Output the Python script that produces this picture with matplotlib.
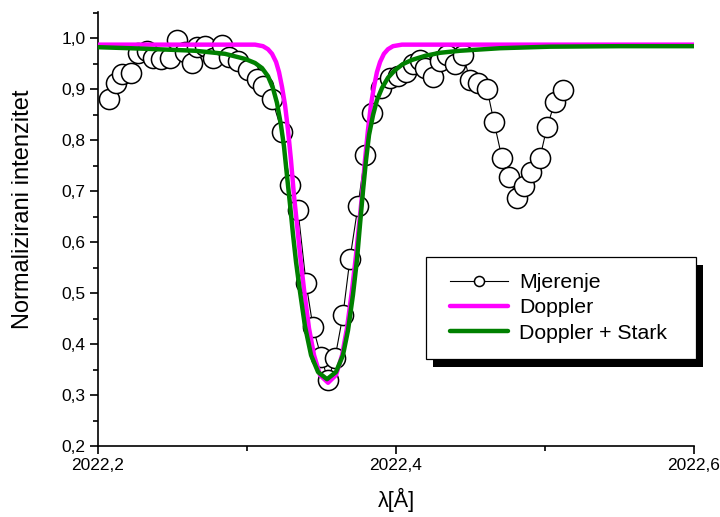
import matplotlib
matplotlib.use("Agg")
import matplotlib.pyplot as plt
from matplotlib.patches import Rectangle
from matplotlib.ticker import MultipleLocator

plt.rcParams['font.family'] = ['Liberation Sans', 'DejaVu Sans']

# measured spectrum (Mjerenje)
meas_x = [2022.2074, 2022.2121, 2022.2161, 2022.2221, 2022.2268, 2022.2329, 2022.2369,
          2022.2423, 2022.2483, 2022.2530, 2022.2584, 2022.2631, 2022.2664, 2022.2718,
          2022.2772, 2022.2832, 2022.2879, 2022.2940, 2022.3007, 2022.3067, 2022.3107,
          2022.3168, 2022.3235, 2022.3289, 2022.3342, 2022.3396, 2022.3443, 2022.3497,
          2022.3544, 2022.3591, 2022.3644, 2022.3691, 2022.3745, 2022.3792, 2022.3839,
          2022.3899, 2022.3960, 2022.4013, 2022.4067, 2022.4114, 2022.4161, 2022.4195,
          2022.4248, 2022.4295, 2022.4342, 2022.4396, 2022.4450, 2022.4497, 2022.4550,
          2022.4611, 2022.4658, 2022.4711, 2022.4758, 2022.4812, 2022.4859, 2022.4906,
          2022.4966, 2022.5013, 2022.5067, 2022.5121]
meas_y = [0.880, 0.912, 0.929, 0.931, 0.971, 0.975, 0.961, 0.959, 0.961, 0.996,
          0.973, 0.951, 0.982, 0.984, 0.961, 0.986, 0.963, 0.955, 0.937, 0.920,
          0.906, 0.880, 0.816, 0.712, 0.663, 0.520, 0.433, 0.375, 0.329, 0.373,
          0.457, 0.567, 0.671, 0.771, 0.853, 0.902, 0.922, 0.925, 0.933, 0.949,
          0.957, 0.941, 0.924, 0.955, 0.967, 0.949, 0.967, 0.918, 0.912, 0.900,
          0.835, 0.765, 0.727, 0.686, 0.710, 0.737, 0.765, 0.825, 0.875, 0.898]

# Doppler profile
dop_x = [2022.2000, 2022.3054, 2022.3107, 2022.3141, 2022.3168, 2022.3195, 2022.3215,
         2022.3235, 2022.3255, 2022.3275, 2022.3295, 2022.3315, 2022.3336, 2022.3356,
         2022.3383, 2022.3416, 2022.3450, 2022.3490, 2022.3544, 2022.3597, 2022.3638,
         2022.3671, 2022.3705, 2022.3732, 2022.3752, 2022.3772, 2022.3792, 2022.3812,
         2022.3832, 2022.3852, 2022.3872, 2022.3893, 2022.3919, 2022.3946, 2022.3980,
         2022.4040, 2022.6000]
dop_y = [0.987, 0.987, 0.984, 0.978, 0.969, 0.953, 0.933, 0.904, 0.869, 0.820,
         0.761, 0.692, 0.633, 0.575, 0.506, 0.431, 0.378, 0.339, 0.324, 0.339,
         0.378, 0.431, 0.506, 0.575, 0.633, 0.692, 0.761, 0.820, 0.869, 0.904,
         0.933, 0.953, 0.969, 0.978, 0.984, 0.987, 0.987]

# Doppler + Stark profile
ds_x = [2022.2000, 2022.2315, 2022.2651, 2022.2852, 2022.2987, 2022.3054, 2022.3101,
        2022.3141, 2022.3174, 2022.3201, 2022.3228, 2022.3248, 2022.3268, 2022.3289,
        2022.3309, 2022.3329, 2022.3356, 2022.3389, 2022.3430, 2022.3477, 2022.3537,
        2022.3597, 2022.3644, 2022.3678, 2022.3711, 2022.3738, 2022.3758, 2022.3779,
        2022.3799, 2022.3819, 2022.3846, 2022.3872, 2022.3906, 2022.3946, 2022.3993,
        2022.4047, 2022.4107, 2022.4195, 2022.4295, 2022.4430, 2022.4698, 2022.5034,
        2022.5503, 2022.6000]
ds_y = [0.982, 0.979, 0.975, 0.969, 0.959, 0.951, 0.941, 0.925, 0.902, 0.873,
        0.829, 0.788, 0.731, 0.673, 0.614, 0.561, 0.502, 0.435, 0.378, 0.345,
        0.331, 0.345, 0.378, 0.427, 0.496, 0.565, 0.633, 0.702, 0.761, 0.810,
        0.849, 0.878, 0.902, 0.922, 0.937, 0.949, 0.957, 0.965, 0.971, 0.975,
        0.980, 0.983, 0.984, 0.984]

labels = ["Mjerenje", "Doppler", "Doppler + Stark"]
xticks = [2022.2, 2022.4, 2022.6]
xtick_labels = ["2022,2", "2022,4", "2022,6"]
yticks = [0.2, 0.3, 0.4, 0.5, 0.6, 0.7, 0.8, 0.9, 1.0]
ytick_labels = ["0,2", "0,3", "0,4", "0,5", "0,6", "0,7", "0,8", "0,9", "1,0"]

fig = plt.figure(figsize=(7.2, 5.17), dpi=100)
ax = fig.add_axes([98 / 720, 1 - 446 / 517, (694 - 98) / 720, (446 - 12) / 517])

h1, = ax.plot(meas_x, meas_y, color='black', lw=0.8, marker='o', markersize=14.5,
              markerfacecolor='white', markeredgecolor='black', markeredgewidth=1.1,
              label=labels[0], zorder=2)
h2, = ax.plot(dop_x, dop_y, color='#FF00FF', lw=3.2, solid_joinstyle='round',
              solid_capstyle='round', label=labels[1], zorder=3)
h3, = ax.plot(ds_x, ds_y, color='#008000', lw=3.2, solid_joinstyle='round',
              solid_capstyle='round', label=labels[2], zorder=4)

ax.set_xlim(2022.2, 2022.6)
ax.set_ylim(0.2, 1.051)
ax.set_xticks(xticks)
ax.set_xticklabels(xtick_labels)
ax.set_yticks(yticks)
ax.set_yticklabels(ytick_labels)
ax.xaxis.set_minor_locator(MultipleLocator(0.1))
ax.yaxis.set_minor_locator(MultipleLocator(0.05))

for s in ['top', 'right']:
    ax.spines[s].set_visible(False)
for s in ['left', 'bottom']:
    ax.spines[s].set_linewidth(1.2)
ax.tick_params(which='major', direction='out', length=6, width=1.2,
               labelsize=12.5, pad=3)
ax.tick_params(which='minor', direction='out', length=3.5, width=1.2)

ax.set_xlabel("λ[Å]", fontsize=15.5, labelpad=10)
ax.set_ylabel("Normalizirani intenzitet", fontsize=17)
ax.yaxis.set_label_coords(-0.108, 0.545)

leg = fig.legend([h1, h2, h3], labels, loc='upper left',
                 bbox_to_anchor=(434 / 720, 1 - 257 / 517),
                 bbox_transform=fig.transFigure, fontsize=15.3, frameon=False,
                 handlelength=2.75, handletextpad=0.5, labelspacing=0.3,
                 borderpad=0.75, borderaxespad=0, markerscale=0.5)
leg.set_zorder(10)

fig.canvas.draw()
bb = leg.get_window_extent()
W, H = fig.bbox.width, fig.bbox.height
pad_l, pad_r = 8, 13
fx0, fy0 = bb.x0 - pad_l, bb.y0
fw, fh = bb.width + pad_l + pad_r, bb.height
off_x, off_y = 7, 8
shadow = Rectangle(((fx0 + off_x) / W, (fy0 - off_y) / H), fw / W, fh / H,
                   transform=fig.transFigure, facecolor='black', edgecolor='none', zorder=8)
frame = Rectangle((fx0 / W, fy0 / H), fw / W, fh / H,
                  transform=fig.transFigure, facecolor='white', edgecolor='black',
                  linewidth=0.9, zorder=9)
fig.add_artist(shadow)
fig.add_artist(frame)

fig.savefig("out.png", dpi=100)
